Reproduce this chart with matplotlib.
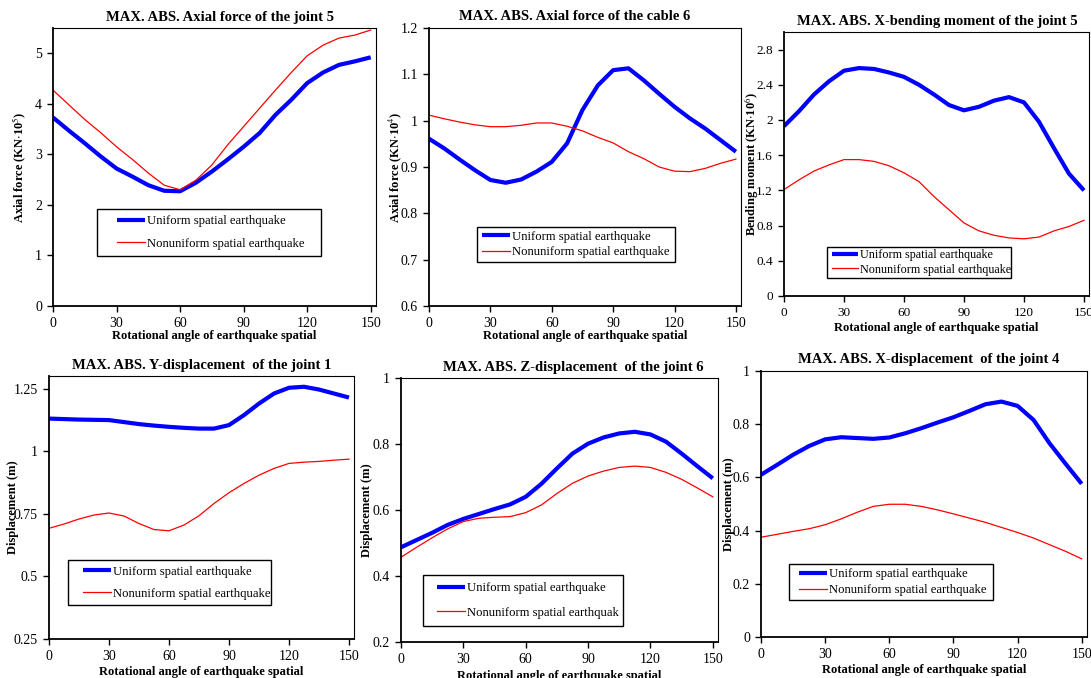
import numpy as np
import matplotlib
matplotlib.use("Agg")
import matplotlib.pyplot as plt
import matplotlib.patches as patches
from matplotlib.ticker import FuncFormatter

plt.rcParams["font.family"] = ["Liberation Serif", "DejaVu Serif"]
plt.rcParams["mathtext.fontset"] = "stix"

# ---------------------------------------------------------------------------
# Data
# ---------------------------------------------------------------------------
ANGLE = np.arange(0, 150.1, 7.5)

UNI_LABEL = "Uniform spatial earthquake"
NON_LABEL = "Nonuniform spatial earthquake"
NON_LABEL_5 = "Nonuniform spatial earthquak"

axial_j5_uni = [3.73, 3.47, 3.22, 2.96, 2.72, 2.56, 2.39, 2.28, 2.27, 2.44, 2.66,
                2.90, 3.15, 3.42, 3.78, 4.08, 4.41, 4.62, 4.77, 4.84, 4.92]
axial_j5_non = [4.27, 3.98, 3.69, 3.43, 3.15, 2.90, 2.63, 2.39, 2.30, 2.49, 2.79,
                3.19, 3.55, 3.91, 4.27, 4.62, 4.95, 5.16, 5.30, 5.36, 5.46]

axial_c6_uni = [0.961, 0.940, 0.916, 0.893, 0.872, 0.866, 0.873, 0.890, 0.911, 0.951, 1.023,
                1.076, 1.109, 1.113, 1.087, 1.058, 1.030, 1.005, 0.983, 0.958, 0.933]
axial_c6_non = [1.012, 1.004, 0.997, 0.991, 0.987, 0.987, 0.990, 0.995, 0.995, 0.988, 0.978,
                0.964, 0.952, 0.933, 0.918, 0.900, 0.891, 0.890, 0.897, 0.908, 0.917]

bend_j5_uni = [1.93, 2.10, 2.29, 2.44, 2.56, 2.59, 2.58, 2.54, 2.49, 2.40, 2.29,
               2.17, 2.11, 2.15, 2.22, 2.26, 2.20, 1.98, 1.68, 1.39, 1.20]
bend_j5_non = [1.21, 1.32, 1.42, 1.49, 1.55, 1.55, 1.53, 1.48, 1.40, 1.30, 1.13,
               0.98, 0.83, 0.74, 0.69, 0.66, 0.65, 0.67, 0.74, 0.79, 0.86]

ydisp_j1_uni = [1.130, 1.128, 1.126, 1.125, 1.124, 1.116, 1.108, 1.102, 1.097, 1.093, 1.090,
                1.090, 1.104, 1.144, 1.190, 1.230, 1.253, 1.257, 1.246, 1.230, 1.214]
ydisp_j1_non = [0.692, 0.709, 0.729, 0.745, 0.753, 0.741, 0.711, 0.687, 0.682, 0.705, 0.742,
                0.791, 0.834, 0.871, 0.904, 0.931, 0.951, 0.956, 0.959, 0.964, 0.968]

zdisp_j6_uni = [0.487, 0.509, 0.531, 0.555, 0.573, 0.588, 0.603, 0.617, 0.640, 0.679, 0.726,
                0.771, 0.801, 0.820, 0.832, 0.837, 0.829, 0.807, 0.771, 0.733, 0.696]
zdisp_j6_non = [0.457, 0.487, 0.516, 0.543, 0.565, 0.575, 0.578, 0.580, 0.592, 0.615, 0.650,
                0.681, 0.703, 0.718, 0.729, 0.733, 0.729, 0.714, 0.693, 0.667, 0.640]

xdisp_j4_uni = [0.610, 0.647, 0.685, 0.718, 0.743, 0.751, 0.748, 0.745, 0.750, 0.766, 0.785,
                0.806, 0.826, 0.850, 0.875, 0.885, 0.869, 0.816, 0.728, 0.651, 0.576]
xdisp_j4_non = [0.375, 0.386, 0.397, 0.407, 0.422, 0.444, 0.469, 0.491, 0.499, 0.499, 0.491,
                0.478, 0.463, 0.447, 0.431, 0.412, 0.393, 0.372, 0.347, 0.322, 0.294]

X_TICKS = [0, 30, 60, 90, 120, 150]
X_LABEL = "Rotational angle of earthquake spatial"

# ---------------------------------------------------------------------------
# Layout (pixel boxes measured on the 1091x678 reference)
# ---------------------------------------------------------------------------
W, H = 1091, 678
BLUE = (0.0, 0.0, 1.0)
RED = (1.0, 0.0, 0.0)

panels = [
    dict(px=(53, 376, 28, 306), ylim=(0, 5.5), yticks=np.arange(0, 5.01, 1),
         title="MAX. ABS. Axial force of the joint 5", title_x=0.517,
         ylabel=r"Axial force (KN$\cdot$10$^{5}$)", uni=axial_j5_uni, non=axial_j5_non,
         non_label=NON_LABEL, box=(0.136, 0.180, 0.830, 0.349), hx=0.198, lsp=0.8, lfs=9.1,
         xl=-30, yl=-33, tfs=10),
    dict(px=(429, 741, 28, 306), ylim=(0.6, 1.2), yticks=np.arange(0.6, 1.21, 0.1),
         title="MAX. ABS. Axial force of the cable 6", title_x=0.468,
         ylabel=r"Axial force (KN$\cdot$10$^{4}$)", uni=axial_c6_uni, non=axial_c6_non,
         non_label=NON_LABEL, box=(0.154, 0.158, 0.788, 0.284), hx=0.170, lsp=0.3, lfs=9.1,
         xl=-30, yl=-34, tfs=10),
    dict(px=(784, 1089, 32, 296), ylim=(0, 3.0), yticks=np.arange(0, 2.81, 0.4),
         title="MAX. ABS. X-bending moment of the joint 5", title_x=0.502,
         ylabel=r"Bending moment (KN$\cdot$10$^{6}$)", uni=bend_j5_uni, non=bend_j5_non,
         non_label=NON_LABEL, box=(0.141, 0.068, 0.744, 0.186), hx=0.157, lsp=0.2, lfs=8.7,
         xl=-32, yl=-32, tfs=9.5),
    dict(px=(49, 354, 376, 639), ylim=(0.25, 1.3), yticks=np.arange(0.25, 1.26, 0.25),
         title="MAX. ABS. Y-displacement  of the joint 1", title_x=0.502,
         ylabel="Displacement (m)", uni=ydisp_j1_uni, non=ydisp_j1_non,
         non_label=NON_LABEL, box=(0.062, 0.129, 0.728, 0.300), hx=0.111, lsp=0.8, lfs=9.1,
         xl=-33, yl=-36, tfs=10),
    dict(px=(401, 718, 378, 642), ylim=(0.2, 1.0), yticks=np.arange(0.2, 1.01, 0.2),
         title="MAX. ABS. Z-displacement  of the joint 6", title_x=0.544,
         ylabel="Displacement (m)", uni=zdisp_j6_uni, non=zdisp_j6_non,
         non_label=NON_LABEL_5, box=(0.069, 0.061, 0.700, 0.254), hx=0.114, lsp=1.0, lfs=9.1,
         xl=-34, yl=-34, tfs=10),
    dict(px=(761, 1087, 371, 637), ylim=(0, 1.0), yticks=np.arange(0, 1.01, 0.2),
         title="MAX. ABS. X-displacement  of the joint 4", title_x=0.515,
         ylabel="Displacement (m)", uni=xdisp_j4_uni, non=xdisp_j4_non,
         non_label=NON_LABEL, box=(0.086, 0.139, 0.712, 0.274), hx=0.117, lsp=0.3, lfs=9.1,
         xl=-33, yl=-32, tfs=10),
]

fig = plt.figure(figsize=(W / 100, H / 100), dpi=100, facecolor="white")
fmt = FuncFormatter(lambda v, pos: f"{round(v, 3):g}")

for p in panels:
    x0, x1, y0, y1 = p["px"]
    w, h = x1 - x0, y1 - y0
    ax = fig.add_axes([x0 / W, 1 - y1 / H, w / W, h / H])

    ax.plot(ANGLE, p["uni"], color=BLUE, lw=3.0, label=UNI_LABEL, solid_capstyle="butt")
    ax.plot(ANGLE, p["non"], color=RED, lw=0.9, label=p["non_label"])

    ax.set_xlim(0, 152.5)
    ax.set_ylim(*p["ylim"])
    ax.set_xticks(X_TICKS)
    ax.set_yticks(p["yticks"])
    ax.yaxis.set_major_formatter(fmt)
    ax.tick_params(direction="out", length=4, width=1, labelsize=p["tfs"], color="black", pad=4)

    for side, sp in ax.spines.items():
        sp.set_color("black")
        sp.set_linewidth(1.3 if side in ("left", "bottom") else 0.8)

    ax.text(p["title_x"], 1 + 11 / h, p["title"], transform=ax.transAxes,
            ha="center", va="center", fontsize=10.5, fontweight="bold")

    ax.set_xlabel(X_LABEL, fontsize=9, fontweight="bold")
    ax.xaxis.set_label_coords(0.5, p["xl"] / h)
    ax.xaxis.label.set_verticalalignment("center")
    ax.set_ylabel(p["ylabel"], fontsize=9, fontweight="bold")
    ax.yaxis.set_label_coords(p["yl"] / w, 0.5)
    ax.yaxis.label.set_verticalalignment("center")

    bx0, by0, bx1, by1 = p["box"]
    ax.add_patch(patches.Rectangle((bx0, by0), bx1 - bx0, by1 - by0, transform=ax.transAxes,
                                   facecolor="white", edgecolor="black", lw=1.0, zorder=5))
    leg = ax.legend(loc="center left", bbox_to_anchor=(p["hx"], (by0 + by1) / 2),
                    frameon=False, fontsize=p["lfs"], borderpad=0, borderaxespad=0,
                    handlelength=2.2, handletextpad=0.15, labelspacing=p["lsp"])
    leg.set_zorder(6)

fig.savefig("out.png", dpi=100, facecolor="white")
